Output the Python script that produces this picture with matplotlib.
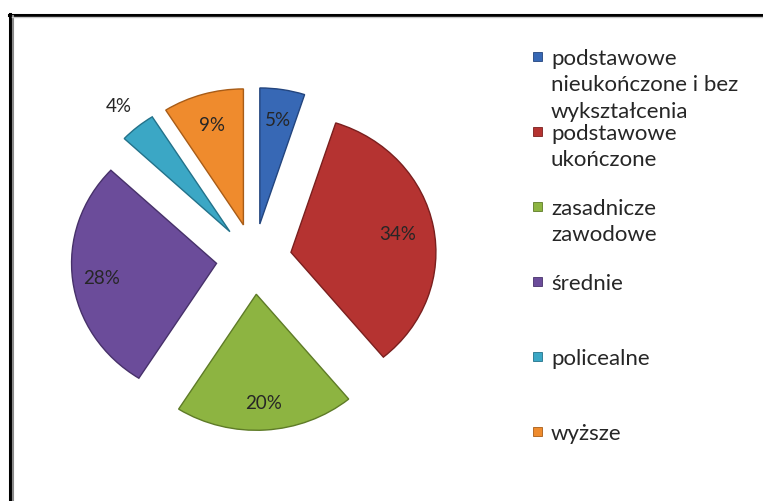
import numpy as np
import matplotlib.pyplot as plt
from matplotlib.lines import Line2D
from matplotlib.patches import Rectangle

plt.rcParams['font.family'] = ['Lato', 'DejaVu Sans']

# data
categories = ['podstawowe\nnieukończone i bez\nwykształcenia',
              'podstawowe\nukończone',
              'zasadnicze\nzawodowe',
              'średnie',
              'policealne',
              'wyższe']
values = [5, 34, 20, 28, 4, 9]
colors = ['#3768B5', '#B53331', '#8DB441', '#6B4C9A', '#3BA7C5', '#EF8B2D']
edges = ['#23457E', '#7A1F1E', '#5E7B27', '#47316A', '#23728A', '#A85C17']
label_dist = [0.78, 0.75, 0.8, 0.8, 1.2, 0.77]

W, H = 763, 502
fig = plt.figure(figsize=(W / 100, H / 100), dpi=100)

ax = fig.add_axes([0.0478, 0.0757, 0.570, 0.813])
wedges, _ = ax.pie(values, colors=colors, explode=[0.26] * len(values),
                   startangle=90, counterclock=False,
                   wedgeprops=dict(linewidth=1.0))
for w, ec in zip(wedges, edges):
    w.set_edgecolor(ec)
ax.set_aspect('auto')
ax.set_xlim(-1.5, 1.5)
ax.set_ylim(-1.5, 1.5)
ax.axis('off')

# percentage labels
for w, v, d in zip(wedges, values, label_dist):
    ang = np.deg2rad((w.theta1 + w.theta2) / 2)
    cx, cy = w.center
    ax.text(cx + d * w.r * np.cos(ang), cy + d * w.r * np.sin(ang), f'{v}%',
            ha='center', va='center', fontsize=13.5, color='#262626')

# legend drawn by hand (Excel-like, entries overflow)
for i, (lab, c, ec) in enumerate(zip(categories, colors, edges)):
    y = 57 + i * 75
    fig.add_artist(Rectangle(((537 - 4.5) / W, 1 - (y + 4.5) / H), 9 / W, 9 / H,
                             facecolor=c, edgecolor=ec, lw=0.6,
                             transform=fig.transFigure))
    fig.text(551 / W, 1 - (y - 8) / H, lab, ha='left', va='top',
             fontsize=16, color='#262626', linespacing=1.4)

# frame
fig.add_artist(Line2D([9.5 / W, 9.5 / W], [0, 1 - 15 / H], color='black', lw=2.2))
fig.add_artist(Line2D([8.5 / W, 1], [1 - 15.5 / H, 1 - 15.5 / H], color='black', lw=2.2))
fig.add_artist(Line2D([12.5 / W, 12.5 / W], [0, 1 - 17 / H], color='#8a8a8a', lw=1.5))
fig.add_artist(Line2D([12 / W, 1], [1 - 17.5 / H, 1 - 17.5 / H], color='#c8c8c8', lw=1.0))

fig.savefig('out.png', dpi=100)
